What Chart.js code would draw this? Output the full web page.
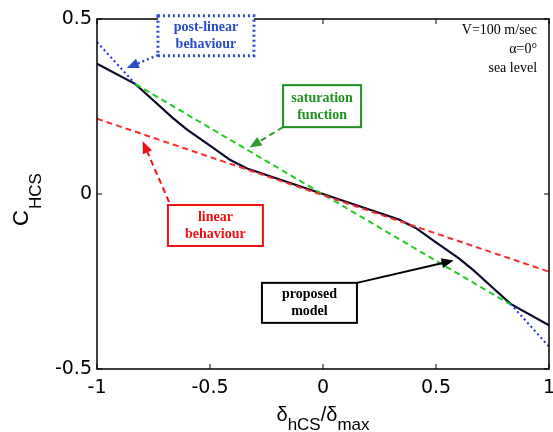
<!DOCTYPE html>
<html>
<head>
<meta charset="utf-8">
<script src="https://cdn.jsdelivr.net/npm/chart.js@4.4.0/dist/chart.umd.min.js"></script>
<style>
  html, body { margin: 0; padding: 0; background: #fff; }
  #wrap { width: 553px; height: 432px; }
</style>
</head>
<body>
<div id="wrap"><canvas id="hingeChart" width="553" height="432"></canvas></div>
<script>
// tick values
const xTicks = [-1, -0.5, 0, 0.5, 1];
const yTicks = [-0.5, 0, 0.5];

// proposed model (black)
const modelX = [-1, -0.83, -0.75, -0.664, -0.6, -0.5, -0.41, -0.336, 0, 0.336, 0.41, 0.5, 0.6, 0.664, 0.75, 0.83, 1];
const modelY = [0.372, 0.314, 0.267, 0.217, 0.183, 0.138, 0.097, 0.073, 0, -0.073, -0.097, -0.138, -0.183, -0.217, -0.267, -0.314, -0.375];

// linear behaviour (red)
const linearX = [-1, 1];
const linearY = [0.215, -0.222];

// saturation function (green)
const satX = [-0.83, 0.83];
const satY = [0.314, -0.316];

// post-linear behaviour (blue), two pieces
const postX = [-1, -0.83, null, 0.83, 1];
const postY = [0.434, 0.314, null, -0.314, -0.436];

function pts(xs, ys) {
    return xs.map((x, i) => ({ x: x, y: ys[i] }));
}

// annotation boxes, positioned in data units
const notes = [
    { lines: ['post-linear', 'behaviour'], x: -0.518, y: 0.452, w: 96, h: 40, color: '#2a4ccc', dash: [2, 3],
      from: [-0.73, 0.397], to: [-0.868, 0.36] },
    { lines: ['saturation', 'function'], x: -0.004, y: 0.251, w: 78, h: 42, color: '#1f8f1f', dash: [],
      from: [-0.177, 0.191], to: [-0.325, 0.133], arrowColor: '#2e9a2e', arrowDash: [6, 4] },
    { lines: ['linear', 'behaviour'], x: -0.476, y: -0.09, w: 95, h: 41, color: '#ee1111', dash: [],
      from: [-0.681, -0.023], to: [-0.798, 0.151], arrowDash: [6, 4] },
    { lines: ['proposed', 'model'], x: -0.06, y: -0.311, w: 95, h: 40, color: '#000000', dash: [],
      from: [0.15, -0.254], to: [0.578, -0.19], arrowDash: [] }
];

const infoLines = ['V=100 m/sec', '\u03b1=0\u00b0', 'sea level'];

function arrowHead(ctx, x1, y1, x2, y2, color) {
    const a = Math.atan2(y2 - y1, x2 - x1);
    const len = 12, wid = 5;
    ctx.save();
    ctx.setLineDash([]);
    ctx.fillStyle = color;
    ctx.beginPath();
    ctx.moveTo(x2, y2);
    ctx.lineTo(x2 - len * Math.cos(a) + wid * Math.sin(a), y2 - len * Math.sin(a) - wid * Math.cos(a));
    ctx.lineTo(x2 - len * Math.cos(a) - wid * Math.sin(a), y2 - len * Math.sin(a) + wid * Math.cos(a));
    ctx.closePath();
    ctx.fill();
    ctx.restore();
}

const decorPlugin = {
    id: 'decor',
    afterDatasetsDraw(chart) {
        const ctx = chart.ctx;
        const a = chart.chartArea;
        const xs = chart.scales.x, ys = chart.scales.y;

        // box and inward ticks
        ctx.save();
        ctx.strokeStyle = '#000';
        ctx.lineWidth = 1.5;
        ctx.strokeRect(a.left, a.top, a.right - a.left, a.bottom - a.top);
        ctx.lineWidth = 1;
        xTicks.forEach(v => {
            const p = xs.getPixelForValue(v);
            ctx.beginPath();
            ctx.moveTo(p, a.bottom); ctx.lineTo(p, a.bottom - 5);
            ctx.moveTo(p, a.top); ctx.lineTo(p, a.top + 5);
            ctx.stroke();
        });
        yTicks.forEach(v => {
            const p = ys.getPixelForValue(v);
            ctx.beginPath();
            ctx.moveTo(a.left, p); ctx.lineTo(a.left + 5, p);
            ctx.moveTo(a.right, p); ctx.lineTo(a.right - 5, p);
            ctx.stroke();
        });
        ctx.restore();

        // info text top right
        ctx.save();
        ctx.fillStyle = '#000';
        ctx.font = '14px "Liberation Serif", "Times New Roman", serif';
        ctx.textAlign = 'right';
        ctx.textBaseline = 'middle';
        infoLines.forEach((t, i) => {
            ctx.fillText(t, xs.getPixelForValue(0.947), ys.getPixelForValue(0.469) + i * 19);
        });
        ctx.restore();

        // annotation boxes with arrows
        notes.forEach(n => {
            const cx = xs.getPixelForValue(n.x), cy = ys.getPixelForValue(n.y);
            const fx = xs.getPixelForValue(n.from[0]), fy = ys.getPixelForValue(n.from[1]);
            const tx = xs.getPixelForValue(n.to[0]), ty = ys.getPixelForValue(n.to[1]);
            const ac = n.arrowColor || n.color;
            ctx.save();
            ctx.strokeStyle = ac;
            ctx.lineWidth = n.dash.length && n.dash[0] === 2 ? 2.5 : 2;
            ctx.setLineDash(n.arrowDash || n.dash);
            ctx.beginPath();
            ctx.moveTo(fx, fy);
            const ang = Math.atan2(ty - fy, tx - fx);
            ctx.lineTo(tx - 10 * Math.cos(ang), ty - 10 * Math.sin(ang));
            ctx.stroke();
            arrowHead(ctx, fx, fy, tx, ty, ac);

            ctx.setLineDash(n.dash);
            ctx.fillStyle = '#fff';
            ctx.fillRect(cx - n.w / 2, cy - n.h / 2, n.w, n.h);
            ctx.strokeStyle = n.color;
            ctx.lineWidth = n.dash.length ? 3 : 2;
            ctx.strokeRect(cx - n.w / 2, cy - n.h / 2, n.w, n.h);
            ctx.fillStyle = n.color;
            ctx.font = 'bold 14px "Liberation Serif", "Times New Roman", serif';
            ctx.textAlign = 'center';
            ctx.textBaseline = 'middle';
            ctx.fillText(n.lines[0], cx, cy - 8);
            ctx.fillText(n.lines[1], cx, cy + 9);
            ctx.restore();
        });

        // axis titles
        ctx.save();
        ctx.fillStyle = '#000';
        ctx.textBaseline = 'alphabetic';
        ctx.textAlign = 'left';
        // x title: δhCS/δmax
        const big = '20px "Liberation Sans", Arial, sans-serif';
        const sub = '17px "Liberation Sans", Arial, sans-serif';
        const parts = [['\u03b4', big, 0], ['hCS', sub, 9], ['/\u03b4', big, 0], ['max', sub, 9]];
        let total = 0;
        parts.forEach(p => { ctx.font = p[1]; total += ctx.measureText(p[0]).width; });
        let px = (a.left + a.right) / 2 - total / 2;
        parts.forEach(p => {
            ctx.font = p[1];
            ctx.fillText(p[0], px, 421 + p[2]);
            px += ctx.measureText(p[0]).width;
        });
        // y title: C HCS rotated
        ctx.translate(28, (a.top + a.bottom) / 2 + 6);
        ctx.rotate(-Math.PI / 2);
        const yparts = [['C', '22px "Liberation Sans", Arial, sans-serif', 0], ['HCS', '17px "Liberation Sans", Arial, sans-serif', 13]];
        let yt = 0;
        yparts.forEach(p => { ctx.font = p[1]; yt += ctx.measureText(p[0]).width; });
        let py = -yt / 2;
        yparts.forEach(p => {
            ctx.font = p[1];
            ctx.fillText(p[0], py, p[2]);
            py += ctx.measureText(p[0]).width + 1;
        });
        ctx.restore();
    }
};

function initChart() {
    const ctx = document.getElementById('hingeChart').getContext('2d');
    new Chart(ctx, {
        type: 'scatter',
        data: {
            datasets: [
                {
                    label: 'linear behaviour',
                    data: pts(linearX, linearY),
                    borderColor: '#ff2a2a',
                    borderDash: [6, 4],
                    borderWidth: 2
                },
                {
                    label: 'saturation function',
                    data: pts(satX, satY),
                    borderColor: '#22cc22',
                    borderDash: [6, 4],
                    borderWidth: 2
                },
                {
                    label: 'post-linear behaviour',
                    data: pts(postX, postY),
                    borderColor: '#1a2cff',
                    borderDash: [2, 3],
                    borderWidth: 2,
                    spanGaps: false
                },
                {
                    label: 'proposed model',
                    data: pts(modelX, modelY),
                    borderColor: '#0a0a28',
                    borderWidth: 2.2
                }
            ]
        },
        options: {
            responsive: false,
            animation: false,
            showLine: true,
            elements: { point: { radius: 0 }, line: { tension: 0 } },
            layout: { padding: { top: 19, right: 4, left: 0, bottom: 0 } },
            plugins: {
                legend: { display: false },
                tooltip: { enabled: false }
            },
            scales: {
                x: {
                    type: 'linear',
                    min: -1,
                    max: 1,
                    afterBuildTicks: s => { s.ticks = xTicks.map(v => ({ value: v })); },
                    afterFit: s => { s.height = 63; s.paddingLeft = 0; s.paddingRight = 0; },
                    grid: { display: false, drawTicks: false },
                    border: { display: false },
                    ticks: {
                        color: '#000',
                        padding: 8,
                        maxRotation: 0,
                        autoSkip: false,
                        font: { family: '"DejaVu Sans", sans-serif', size: 19 },
                        callback: v => String(v)
                    }
                },
                y: {
                    type: 'linear',
                    min: -0.5,
                    max: 0.5,
                    afterBuildTicks: s => { s.ticks = yTicks.map(v => ({ value: v })); },
                    afterFit: s => { s.width = 97; s.paddingTop = 0; s.paddingBottom = 0; },
                    grid: { display: false, drawTicks: false },
                    border: { display: false },
                    ticks: {
                        color: '#000',
                        padding: 5,
                        autoSkip: false,
                        font: { family: '"DejaVu Sans", sans-serif', size: 19 },
                        callback: v => String(v)
                    }
                }
            }
        },
        plugins: [decorPlugin]
    });
}

document.addEventListener('DOMContentLoaded', function () {
    initChart();
});
</script>
</body>
</html>
